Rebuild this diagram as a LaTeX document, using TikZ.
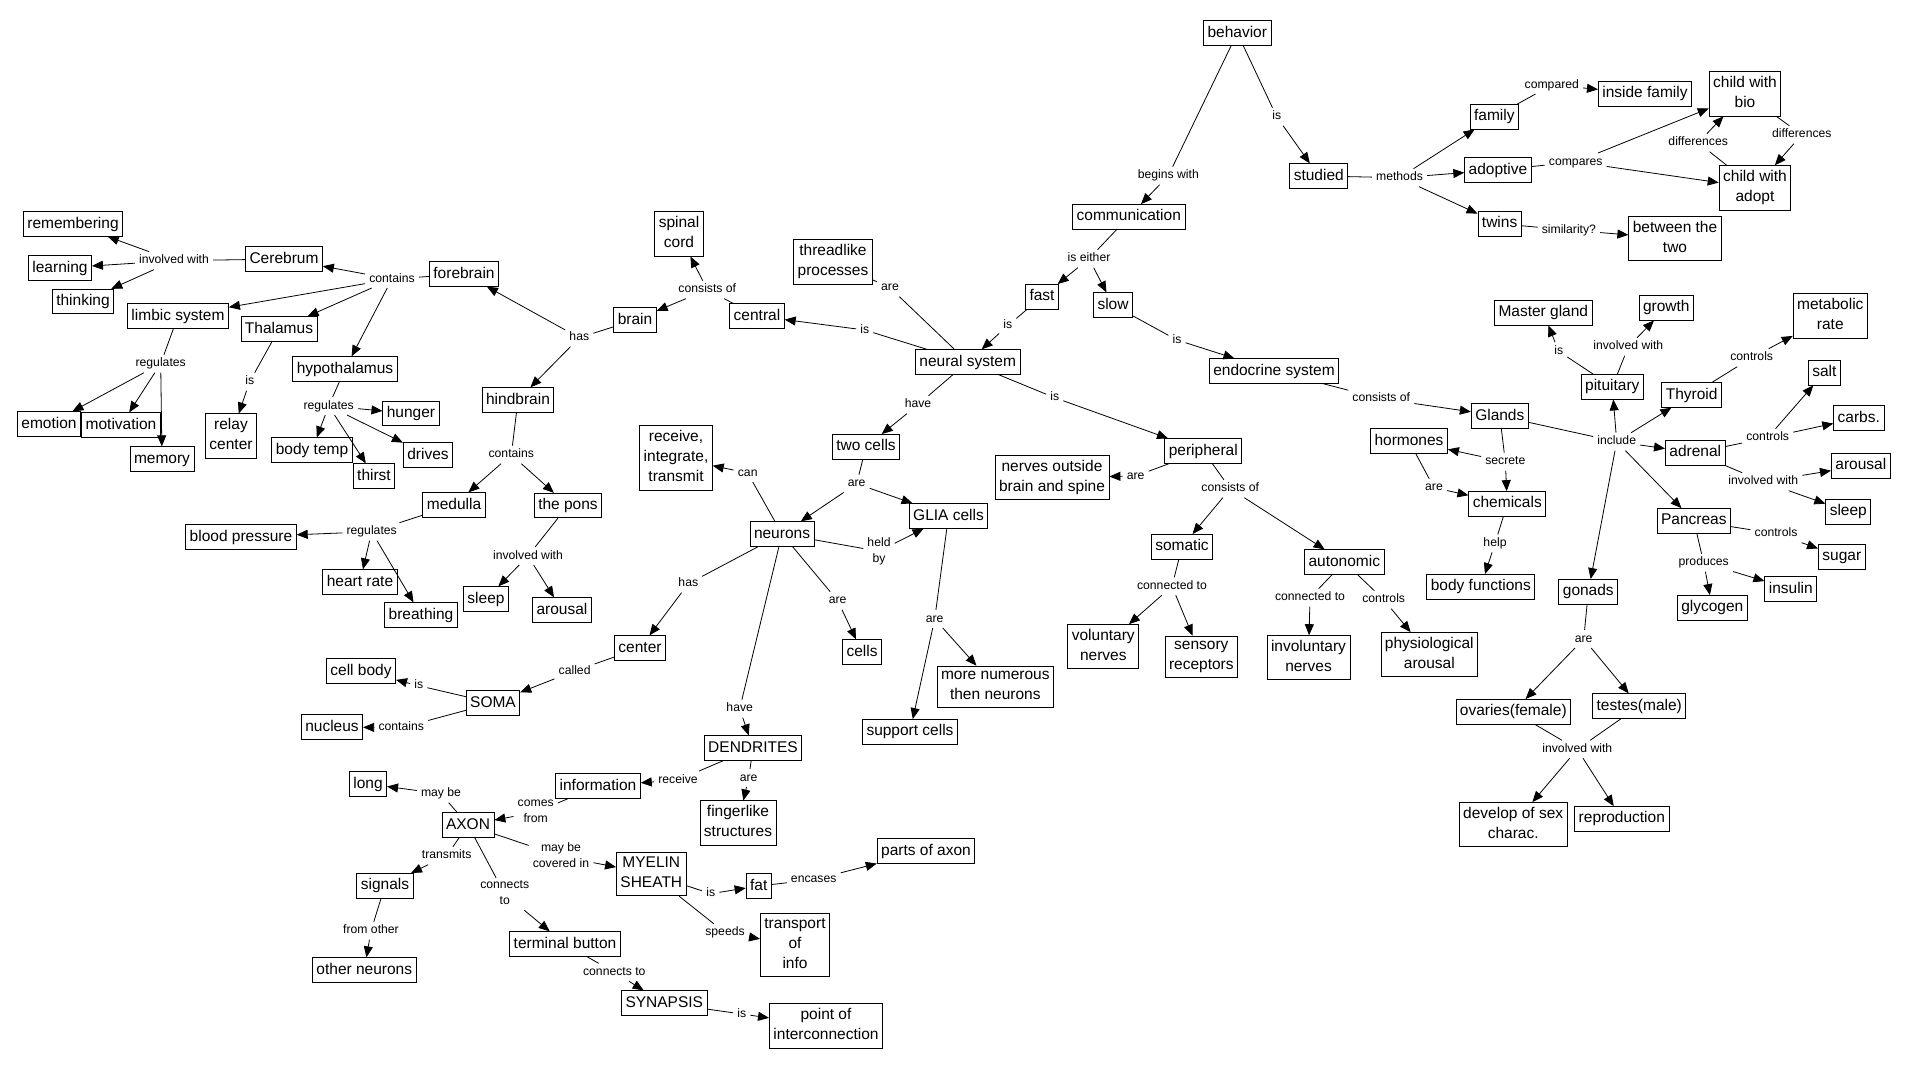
\documentclass[tikz,border=0pt]{standalone}
\usepackage{fontspec}
\setmainfont{Liberation Sans}
\usetikzlibrary{arrows.meta}
\newcommand{\cst}{\rule[-3.5pt]{0pt}{15pt}}
\newcommand{\lst}{\rule[-2.6pt]{0pt}{11.6pt}}
\newcommand{\mylink}[3]{\draw[ln] (#1) -- (#2);\foreach \tg in {#3}{\draw[ar] (#2) -- (\tg);}}
\begin{document}
\begin{tikzpicture}[x=1pt,y=-1pt,
 cn/.style={draw, line width=0.8pt, align=center, font=\fontsize{15.5}{20}\selectfont, inner xsep=4pt, inner ysep=4.75pt, execute at begin node=\cst, execute at end node=\cst},
 lb/.style={align=center, font=\fontsize{12.2}{15.5}\selectfont, inner xsep=4pt, inner ysep=3pt, execute at begin node=\lst, execute at end node=\lst},
 ln/.style={line width=0.8pt},
 ar/.style={line width=0.8pt, -{Triangle[length=11pt,width=9pt]}}]
\fill[white] (0,0) rectangle (1907,1068);
% ---------- concepts ----------
\node[cn] (remembering) at (73,224) {remembering};
\node[cn] (learning) at (60,268) {learning};
\node[cn] (thinking) at (83,301.5) {thinking};
\node[cn] (cerebrum) at (284,259) {Cerebrum};
\node[cn] (forebrain) at (464,274) {forebrain};
\node[cn] (limbic) at (178,316) {limbic system};
\node[cn] (thalamus) at (279,329) {Thalamus};
\node[cn] (hypo) at (345,369) {hypothalamus};
\node[cn] (relay) at (231,436) {relay\\center};
\node[cn] (hunger) at (411,413.5) {hunger};
\node[cn] (emotion) at (49,424) {emotion};
\node[cn] (motivation) at (121,425) {motivation};
\node[cn] (memory) at (162,459) {memory};
\node[cn] (bodytemp) at (312,450) {body temp};
\node[cn] (thirst) at (374,476) {thirst};
\node[cn] (drives) at (428,455) {drives};
\node[cn] (medulla) at (454,505) {medulla};
\node[cn] (pons) at (568,505.5) {the pons};
\node[cn] (bloodp) at (241,537) {blood pressure};
\node[cn] (heartrate) at (360,582) {heart rate};
\node[cn] (breathing) at (421,615) {breathing};
\node[cn] (sleepA) at (486,599) {sleep};
\node[cn] (arousalA) at (562,610) {arousal};
\node[cn] (cellbody) at (361,671) {cell body};
\node[cn] (soma) at (493,703) {SOMA};
\node[cn] (nucleus) at (332,727) {nucleus};
\node[cn] (dendrites) at (753,748) {DENDRITES};
\node[cn] (long) at (368,784) {long};
\node[cn] (axon) at (468,825) {AXON};
\node[cn] (information) at (598,786) {information};
\node[cn] (fingerlike) at (738,823) {fingerlike\\structures};
\node[cn] (myelin) at (651.3,874) {MYELIN\\SHEATH};
\node[cn] (signals) at (385,885.7) {signals};
\node[cn] (fat) at (758.7,886) {fat};
\node[cn] (terminal) at (565,944) {terminal button};
\node[cn] (transport) at (795,945) {transport\\of\\info};
\node[cn] (otherneurons) at (364.3,970) {other neurons};
\node[cn] (synapsis) at (664.3,1003) {SYNAPSIS};
\node[cn] (point) at (826,1026) {point of\\interconnection};
\node[cn] (partsaxon) at (926,851) {parts of axon};
\node[cn] (spinal) at (679,234) {spinal\\cord};
\node[cn] (threadlike) at (833,262) {threadlike\\processes};
\node[cn] (brain) at (635,320) {brain};
\node[cn] (central) at (757,316) {central};
\node[cn] (neural) at (967.7,362) {neural system};
\node[cn] (hindbrain) at (518,400) {hindbrain};
\node[cn] (receive) at (676,458) {receive,\\integrate,\\transmit};
\node[cn] (twocells) at (866,446.7) {two cells};
\node[cn] (glia) at (948.5,516) {GLIA cells};
\node[cn] (neurons) at (782,534) {neurons};
\node[cn] (center) at (640,648) {center};
\node[cn] (cells) at (862,652) {cells};
\node[cn] (morenum) at (995.3,686.7) {more numerous\\then neurons};
\node[cn] (support) at (910,731.7) {support cells};
\node[cn] (nervesout) at (1052,477.7) {nerves outside\\brain and spine};
\node[cn] (fast) at (1042,296.7) {fast};
\node[cn] (slow) at (1113,305) {slow};
\node[cn] (endocrine) at (1274,371) {endocrine system};
\node[cn] (peripheral) at (1203.3,451) {peripheral};
\node[cn] (hormones) at (1409,441) {hormones};
\node[cn] (somatic) at (1182,546.7) {somatic};
\node[cn] (autonomic) at (1344.3,562) {autonomic};
\node[cn] (voluntary) at (1103.3,646.7) {voluntary\\nerves};
\node[cn] (sensory) at (1201.3,656.7) {sensory\\receptors};
\node[cn] (involuntary) at (1308.5,657.7) {involuntary\\nerves};
\node[cn] (physio) at (1429.3,654.7) {physiological\\arousal};
\node[cn] (master) at (1543.3,312.8) {Master gland};
\node[cn] (growth) at (1666.3,307.8) {growth};
\node[cn] (metabolic) at (1830.3,316) {metabolic\\rate};
\node[cn] (salt) at (1824.3,372.7) {salt};
\node[cn] (pituitary) at (1612.3,386.8) {pituitary};
\node[cn] (thyroid) at (1691.7,395) {Thyroid};
\node[cn] (carbs) at (1858.8,418) {carbs.};
\node[cn] (glands) at (1499.8,416) {Glands};
\node[cn] (adrenal) at (1695.3,452.8) {adrenal};
\node[cn] (arousalB) at (1860.8,465.8) {arousal};
\node[cn] (chemicals) at (1507.3,503.8) {chemicals};
\node[cn] (sleepB) at (1848.3,511.8) {sleep};
\node[cn] (pancreas) at (1693.8,520.8) {Pancreas};
\node[cn] (sugar) at (1841.8,556.8) {sugar};
\node[cn] (bodyfunc) at (1480.8,586.7) {body functions};
\node[cn] (gonads) at (1588.3,591.7) {gonads};
\node[cn] (insulin) at (1790.8,589) {insulin};
\node[cn] (glycogen) at (1712.3,607.7) {glycogen};
\node[cn] (ovaries) at (1513.3,711.7) {ovaries(female)};
\node[cn] (testes) at (1639.2,706) {testes(male)};
\node[cn] (develop) at (1513.2,824.7) {develop of sex\\charac.};
\node[cn] (reproduction) at (1621.8,818.8) {reproduction};
\node[cn] (behavior) at (1237.3,33) {behavior};
\node[cn] (studied) at (1318.8,176) {studied};
\node[cn] (communication) at (1128.8,216.8) {communication};
\node[cn] (family) at (1494.3,116.8) {family};
\node[cn] (insidefamily) at (1645,93.8) {inside family};
\node[cn] (childbio) at (1745,93.8) {child with\\bio};
\node[cn] (adoptive) at (1498,170) {adoptive};
\node[cn] (childadopt) at (1755,187.8) {child with\\adopt};
\node[cn] (twins) at (1499.6,223.8) {twins};
\node[cn] (between) at (1675,238.7) {between the\\two};
% ---------- linking phrases ----------
\node[lb] (lInvw) at (174,260.7) {involved with};
\node[lb] (lContains) at (392,279) {contains};
\node[lb] (lRegL) at (160.7,363.7) {regulates};
\node[lb] (lIsTh) at (249.7,381.7) {is};
\node[lb] (lRegH) at (328.7,406) {regulates};
\node[lb] (lRegM) at (371.7,531.7) {regulates};
\node[lb] (lCso) at (401.3,727.7) {contains};
\node[lb] (lIsSoma) at (418.7,685.7) {is};
\node[lb] (lMayb) at (441,793.7) {may be};
\node[lb] (lRecv) at (678,780) {receive};
\node[lb] (lComes) at (535.7,812.3) {comes\\from};
\node[lb] (lAreD) at (748.7,778) {are};
\node[lb] (lCov) at (561,856.3) {may be\\covered in};
\node[lb] (lTrans) at (446.7,855.7) {transmits};
\node[lb] (lConn) at (504.7,894) {connects\\to};
\node[lb] (lIsM) at (710.7,893.7) {is};
\node[lb] (lFrom) at (371,930.7) {from other};
\node[lb] (lSpeeds) at (725,932.7) {speeds};
\node[lb] (lConn2) at (614.3,972.3) {connects to};
\node[lb] (lIsS) at (741.7,1014) {is};
\node[lb] (lEncases) at (813.7,879.7) {encases};
\node[lb] (lConsB) at (707.3,289.7) {consists of};
\node[lb] (lAreT) at (890,287.7) {are};
\node[lb] (lHas) at (579.3,337.7) {has};
\node[lb] (lIsC) at (864.7,330) {is};
\node[lb] (lContainsH) at (511.3,454.7) {contains};
\node[lb] (lHave) at (918,404.7) {have};
\node[lb] (lCan) at (747.7,473) {can};
\node[lb] (lAreTC) at (856.7,483.7) {are};
\node[lb] (lHeld) at (879,551.3) {held\\by};
\node[lb] (lHasN) at (688.3,583.7) {has};
\node[lb] (lAreN) at (837.7,600.7) {are};
\node[lb] (lAreG) at (934.7,619) {are};
\node[lb] (lHaveN) at (739.7,708.7) {have};
\node[lb] (lCalled) at (574.6,671) {called};
\node[lb] (lInvP) at (528,556) {involved with};
\node[lb] (lIsF) at (1007.7,325.7) {is};
\node[lb] (lIsSl) at (1177,340) {is};
\node[lb] (lConsE) at (1381.3,398.7) {consists of};
\node[lb] (lIsN) at (1054.7,397.7) {is};
\node[lb] (lAreP) at (1135.7,476) {are};
\node[lb] (lConsP) at (1230.3,488.7) {consists of};
\node[lb] (lAreH) at (1434,487.7) {are};
\node[lb] (lConnS) at (1172,586.3) {connected to};
\node[lb] (lConnA) at (1310,597.7) {connected to};
\node[lb] (lCtrlA) at (1383.7,599.7) {controls};
\node[lb] (lIsPit) at (1558.7,351.3) {is};
\node[lb] (lInvPit) at (1628.3,346.7) {involved with};
\node[lb] (lCtrlT) at (1751.7,357.7) {controls};
\node[lb] (lInclude) at (1616.7,441.7) {include};
\node[lb] (lCtrlAd) at (1767.7,437.7) {controls};
\node[lb] (lSecrete) at (1505.3,461.7) {secrete};
\node[lb] (lInvAd) at (1763.3,481.7) {involved with};
\node[lb] (lCtrlPa) at (1776,533.7) {controls};
\node[lb] (lHelp) at (1495,543.3) {help};
\node[lb] (lProduces) at (1703.7,562.7) {produces};
\node[lb] (lAreGo) at (1583.7,639) {are};
\node[lb] (lInvGo) at (1577.3,749.3) {involved with};
\node[lb] (lIsB) at (1276.7,116.7) {is};
\node[lb] (lBegins) at (1168.3,175.7) {begins with};
\node[lb] (lMethods) at (1399.5,177.7) {methods};
\node[lb] (lEither) at (1089,258.7) {is either};
\node[lb] (lCompared) at (1551.8,85) {compared};
\node[lb] (lDiffL) at (1698.2,142.7) {differences};
\node[lb] (lDiffR) at (1801.8,134.7) {differences};
\node[lb] (lCompares) at (1575.7,162) {compares};
\node[lb] (lSim) at (1568.9,230) {similarity?};
% ---------- connections ----------
\mylink{cerebrum}{lInvw}{remembering,learning,thinking}
\mylink{forebrain}{lContains}{cerebrum,limbic,thalamus,hypo}
\mylink{limbic}{lRegL}{emotion,motivation,memory}
\mylink{thalamus}{lIsTh}{relay}
\mylink{hypo}{lRegH}{hunger,bodytemp,thirst,drives}
\mylink{hindbrain}{lContainsH}{medulla,pons}
\mylink{medulla}{lRegM}{bloodp,heartrate,breathing}
\mylink{pons}{lInvP}{sleepA,arousalA}
\mylink{brain}{lHas}{forebrain,hindbrain}
\mylink{central}{lConsB}{brain,spinal}
\mylink{neural}{lIsC}{central}
\draw[ln] (neural) -- (lAreT) -- (threadlike);
\mylink{neural}{lHave}{twocells}
\mylink{twocells}{lAreTC}{neurons,glia}
\mylink{neurons}{lCan}{receive}
\mylink{neurons}{lHeld}{glia}
\mylink{neurons}{lHasN}{center}
\mylink{neurons}{lAreN}{cells}
\mylink{neurons}{lHaveN}{dendrites}
\mylink{glia}{lAreG}{support,morenum}
\mylink{center}{lCalled}{soma}
\mylink{soma}{lIsSoma}{cellbody}
\mylink{soma}{lCso}{nucleus}
\mylink{dendrites}{lRecv}{information}
\mylink{dendrites}{lAreD}{fingerlike}
\mylink{information}{lComes}{axon}
\mylink{axon}{lMayb}{long}
\mylink{axon}{lTrans}{signals}
\mylink{signals}{lFrom}{otherneurons}
\mylink{axon}{lConn}{terminal}
\mylink{axon}{lCov}{myelin}
\mylink{terminal}{lConn2}{synapsis}
\mylink{synapsis}{lIsS}{point}
\mylink{myelin}{lIsM}{fat}
\mylink{myelin}{lSpeeds}{transport}
\mylink{fat}{lEncases}{partsaxon}
\mylink{behavior}{lBegins}{communication}
\mylink{behavior}{lIsB}{studied}
\mylink{studied}{lMethods}{family,adoptive,twins}
\mylink{family}{lCompared}{insidefamily}
\mylink{adoptive}{lCompares}{childbio,childadopt}
\mylink{childadopt}{lDiffL}{childbio}
\mylink{childbio}{lDiffR}{childadopt}
\mylink{twins}{lSim}{between}
\mylink{communication}{lEither}{fast,slow}
\mylink{fast}{lIsF}{neural}
\mylink{slow}{lIsSl}{endocrine}
\mylink{neural}{lIsN}{peripheral}
\mylink{peripheral}{lAreP}{nervesout}
\mylink{peripheral}{lConsP}{somatic,autonomic}
\mylink{somatic}{lConnS}{voluntary,sensory}
\mylink{autonomic}{lConnA}{involuntary}
\mylink{autonomic}{lCtrlA}{physio}
\mylink{endocrine}{lConsE}{glands}
\mylink{glands}{lSecrete}{hormones,chemicals}
\mylink{hormones}{lAreH}{chemicals}
\mylink{chemicals}{lHelp}{bodyfunc}
\mylink{glands}{lInclude}{pituitary,thyroid,adrenal,pancreas,gonads}
\mylink{pituitary}{lIsPit}{master}
\mylink{pituitary}{lInvPit}{growth}
\mylink{thyroid}{lCtrlT}{metabolic}
\mylink{adrenal}{lCtrlAd}{salt,carbs}
\mylink{adrenal}{lInvAd}{arousalB,sleepB}
\mylink{pancreas}{lCtrlPa}{sugar}
\mylink{pancreas}{lProduces}{glycogen,insulin}
\mylink{gonads}{lAreGo}{ovaries,testes}
\draw[ln] (testes) -- (lInvGo);
\mylink{ovaries}{lInvGo}{develop,reproduction}
\end{tikzpicture}
\end{document}
